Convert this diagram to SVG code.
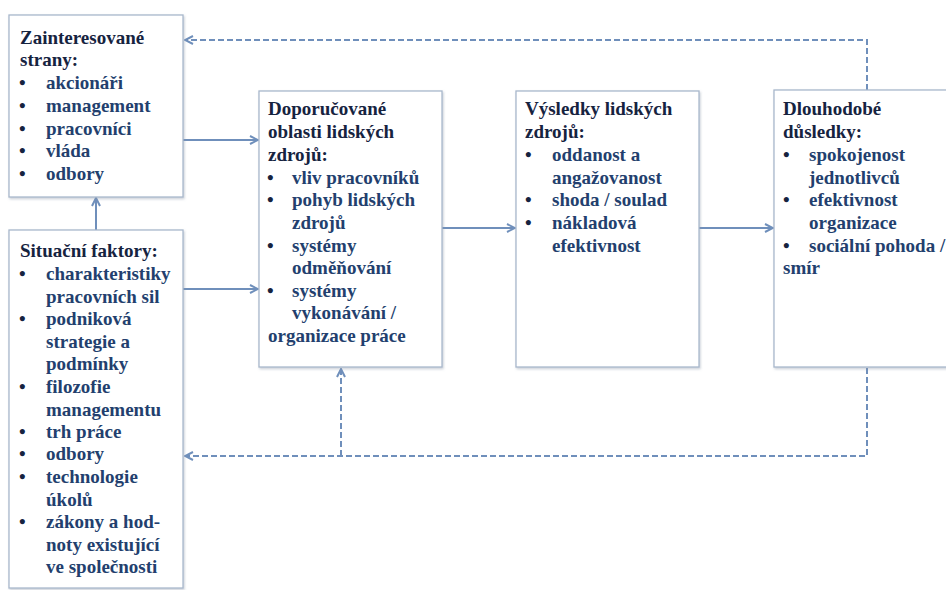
<svg xmlns="http://www.w3.org/2000/svg" width="946" height="590" viewBox="0 0 946 590">
  <defs>
    <marker id="chev" viewBox="0 0 10 10" refX="9" refY="5" markerWidth="5" markerHeight="5" orient="auto" markerUnits="strokeWidth">
      <path d="M1,1 L9,5 L1,9" fill="none" stroke="#6f8fbb" stroke-width="2"/>
    </marker>
    <filter id="shadow" x="-5%" y="-5%" width="110%" height="110%">
      <feDropShadow dx="1" dy="1.5" stdDeviation="1" flood-color="#8a96a8" flood-opacity="0.45"/>
    </filter>
  </defs>
  <style>
    text { font-family: "Times New Roman", "Liberation Serif", serif; font-weight: bold; font-size: 19px; }
    .box { fill: #ffffff; stroke: #a9b8cc; stroke-width: 1.3; filter: url(#shadow); }
    .hd { fill: #16233f; }
    .it { fill: #233f6e; }
    .bl { fill: #16233f; }
    .solid { fill: none; stroke: #6f8fbb; stroke-width: 2; marker-end: url(#chev); }
    .dasharrow { fill: none; stroke: #6f8fbb; stroke-width: 2; stroke-dasharray: 6 3; marker-end: url(#chev); }
  </style>
  <rect width="946" height="590" fill="#ffffff"/>

  <!-- connectors -->
  <g id="connectors">
    <line class="solid" x1="96" y1="230" x2="96" y2="198"/>
    <line class="solid" x1="183" y1="140" x2="258" y2="140"/>
    <line class="solid" x1="183" y1="289" x2="258" y2="289"/>
    <line class="solid" x1="442" y1="228" x2="515" y2="228"/>
    <line class="solid" x1="699" y1="228" x2="773" y2="228"/>
    <polyline class="dasharrow" points="867,90 867,40 185,40"/>
    <polyline class="dasharrow" points="867,368 867,456 185,456"/>
    <line class="dasharrow" x1="341" y1="456" x2="341" y2="369"/>
  </g>

  <!-- stakeholders -->
  <g id="stakeholders">
    <rect class="box" x="9" y="15" width="174" height="182"/>
    <text class="hd" x="20" y="43.5">Zainteresované</text>
    <text class="hd" x="20" y="66">strany:</text>
    <g class="bl"><text x="19" y="89">•</text><text x="19" y="111.5">•</text><text x="19" y="134.5">•</text><text x="19" y="157">•</text><text x="19" y="180">•</text></g>
    <text class="it" x="46" y="89">akcionáři</text>
    <text class="it" x="46" y="111.5">management</text>
    <text class="it" x="46" y="134.5">pracovníci</text>
    <text class="it" x="46" y="157">vláda</text>
    <text class="it" x="46" y="180">odbory</text>
  </g>

  <!-- situational factors -->
  <g id="situational">
    <rect class="box" x="9" y="230" width="174" height="358"/>
    <text class="hd" x="20" y="257">Situační faktory:</text>
    <g class="bl"><text x="19" y="280">•</text><text x="19" y="325">•</text><text x="19" y="393">•</text><text x="19" y="438">•</text><text x="19" y="460">•</text><text x="19" y="483">•</text><text x="19" y="528">•</text></g>
    <text class="it" x="46" y="280">charakteristiky</text>
    <text class="it" x="46" y="302.5">pracovních sil</text>
    <text class="it" x="46" y="325">podniková</text>
    <text class="it" x="46" y="347.5">strategie a</text>
    <text class="it" x="46" y="370">podmínky</text>
    <text class="it" x="46" y="393">filozofie</text>
    <text class="it" x="46" y="415.5">managementu</text>
    <text class="it" x="46" y="438">trh práce</text>
    <text class="it" x="46" y="460">odbory</text>
    <text class="it" x="46" y="483">technologie</text>
    <text class="it" x="46" y="505.5">úkolů</text>
    <text class="it" x="46" y="528">zákony a hod-</text>
    <text class="it" x="46" y="550.5">noty existující</text>
    <text class="it" x="46" y="573">ve společnosti</text>
  </g>

  <!-- recommended HR areas -->
  <g id="policy">
    <rect class="box" x="259" y="91" width="183" height="276"/>
    <text class="hd" x="268" y="115">Doporučované</text>
    <text class="hd" x="268" y="138">oblasti lidských</text>
    <text class="hd" x="268" y="161">zdrojů:</text>
    <g class="bl"><text x="267" y="183.5">•</text><text x="267" y="206">•</text><text x="267" y="251.5">•</text><text x="267" y="296.5">•</text></g>
    <text class="it" x="292" y="183.5">vliv pracovníků</text>
    <text class="it" x="292" y="206">pohyb lidských</text>
    <text class="it" x="292" y="228.5">zdrojů</text>
    <text class="it" x="292" y="251.5">systémy</text>
    <text class="it" x="292" y="274">odměňování</text>
    <text class="it" x="292" y="296.5">systémy</text>
    <text class="it" x="292" y="319">vykonávání /</text>
    <text class="it" x="268" y="341.5">organizace práce</text>
  </g>

  <!-- HR outcomes -->
  <g id="outcomes">
    <rect class="box" x="516" y="91" width="183" height="276"/>
    <text class="hd" x="525" y="115">Výsledky lidských</text>
    <text class="hd" x="525" y="138">zdrojů:</text>
    <g class="bl"><text x="525" y="161">•</text><text x="525" y="206">•</text><text x="525" y="229">•</text></g>
    <text class="it" x="552" y="161">oddanost a</text>
    <text class="it" x="552" y="183.5">angažovanost</text>
    <text class="it" x="552" y="206">shoda / soulad</text>
    <text class="it" x="552" y="229">nákladová</text>
    <text class="it" x="552" y="251.5">efektivnost</text>
  </g>

  <!-- long-term consequences -->
  <g id="consequences">
    <rect class="box" x="774" y="90" width="180" height="277"/>
    <text class="hd" x="783" y="115">Dlouhodobé</text>
    <text class="hd" x="783" y="138">důsledky:</text>
    <g class="bl"><text x="783" y="161">•</text><text x="783" y="206">•</text><text x="783" y="251.5">•</text></g>
    <text class="it" x="809" y="161">spokojenost</text>
    <text class="it" x="809" y="183.5">jednotlivců</text>
    <text class="it" x="809" y="206">efektivnost</text>
    <text class="it" x="809" y="229">organizace</text>
    <text class="it" x="809" y="251.5">sociální pohoda /</text>
    <text class="it" x="783" y="274">smír</text>
  </g>
</svg>
